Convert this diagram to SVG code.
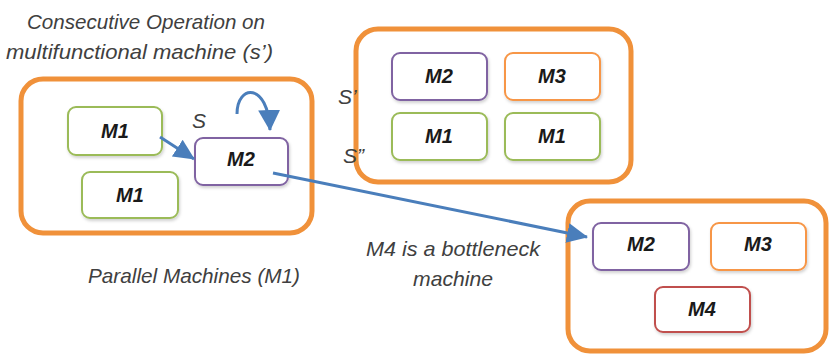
<svg xmlns="http://www.w3.org/2000/svg" width="830" height="355" viewBox="0 0 830 355">
<style>
.grp{fill:#fff;stroke:#F0913A;stroke-width:5}
.node{fill:#fff;stroke-width:2;filter:url(#sh)}
.g{stroke:#9BBB59}.p{stroke:#8064A2}.o{stroke:#F79646}.r{stroke:#C0504D}
.ml{font-family:"Liberation Sans",Arial,sans-serif;font-style:italic;font-weight:bold;font-size:20px;fill:#1a1a1a;text-anchor:middle}
.lab{font-family:"Liberation Sans",Arial,sans-serif;font-style:italic;font-size:21px;fill:#404040}
.con{fill:none;stroke:#4A7EBB;stroke-width:3}
</style>
<defs>
<filter id="sh" x="-10%" y="-10%" width="125%" height="140%">
<feDropShadow dx="1" dy="2" stdDeviation="1.5" flood-color="#000" flood-opacity="0.18"/>
</filter>
<marker id="ah" markerUnits="userSpaceOnUse" markerWidth="22" markerHeight="20" refX="20" refY="10" orient="auto">
<path d="M0,0 L21,10 L0,20 Z" fill="#4A7EBB"/>
</marker>
<marker id="ah2" markerUnits="userSpaceOnUse" markerWidth="22" markerHeight="22" refX="20" refY="11" orient="auto">
<path d="M0,0 L21,11 L0,22 Z" fill="#4A7EBB"/>
</marker>
</defs>

<g id="group-left">
<rect class="grp" x="21" y="79" width="291" height="154" rx="22"/>
</g>
<g id="group-top-right">
<rect class="grp" x="356" y="29" width="275" height="153" rx="22"/>
</g>
<g id="group-bottom-right">
<rect class="grp" x="568" y="201" width="258" height="150" rx="22"/>
</g>

<g id="labels">
<text class="lab" x="27" y="29" textLength="238" lengthAdjust="spacingAndGlyphs">Consecutive Operation on</text>
<text class="lab" x="6" y="59" textLength="267" lengthAdjust="spacingAndGlyphs">multifunctional machine (s’)</text>
<text class="lab" x="88" y="283" textLength="212" lengthAdjust="spacingAndGlyphs">Parallel Machines (M1)</text>
<text class="lab" x="366" y="256" textLength="174" lengthAdjust="spacingAndGlyphs">M4 is a bottleneck</text>
<text class="lab" x="413" y="286" textLength="80" lengthAdjust="spacingAndGlyphs">machine</text>
<text class="lab" x="192" y="128">S</text>
<text class="lab" x="338" y="104">S’</text>
<text class="lab" x="343" y="163">S”</text>
</g>

<g id="n-left-m1a"><rect class="node g" x="68" y="107" width="94" height="48" rx="8"/><text class="ml" x="115" y="138">M1</text></g>
<g id="n-left-m1b"><rect class="node g" x="82" y="172" width="96" height="46" rx="8"/><text class="ml" x="130" y="202">M1</text></g>
<g id="n-left-m2"><rect class="node p" x="195" y="138" width="93" height="47" rx="8"/><text class="ml" x="241" y="166">M2</text></g>

<g id="n-tr-m2"><rect class="node p" x="392" y="53" width="95" height="47" rx="8"/><text class="ml" x="439" y="83">M2</text></g>
<g id="n-tr-m3"><rect class="node o" x="505" y="53" width="95" height="47" rx="8"/><text class="ml" x="552" y="83">M3</text></g>
<g id="n-tr-m1a"><rect class="node g" x="392" y="113" width="95" height="47" rx="8"/><text class="ml" x="439" y="143">M1</text></g>
<g id="n-tr-m1b"><rect class="node g" x="505" y="113" width="95" height="47" rx="8"/><text class="ml" x="552" y="143">M1</text></g>

<g id="n-br-m2"><rect class="node p" x="593" y="223" width="96" height="47" rx="8"/><text class="ml" x="641" y="251">M2</text></g>
<g id="n-br-m3"><rect class="node o" x="711" y="223" width="95" height="47" rx="8"/><text class="ml" x="758" y="251">M3</text></g>
<g id="n-br-m4"><rect class="node r" x="655" y="287" width="95" height="45" rx="8"/><text class="ml" x="702" y="316">M4</text></g>

<g id="connectors">
<path class="con" d="M160,137 L194,159" marker-end="url(#ah)"/>
<path class="con" d="M237,114 C237,84 268,82 270,130" marker-end="url(#ah2)"/>
<path class="con" d="M273,173 L587,237" marker-end="url(#ah)"/>
</g>
</svg>
